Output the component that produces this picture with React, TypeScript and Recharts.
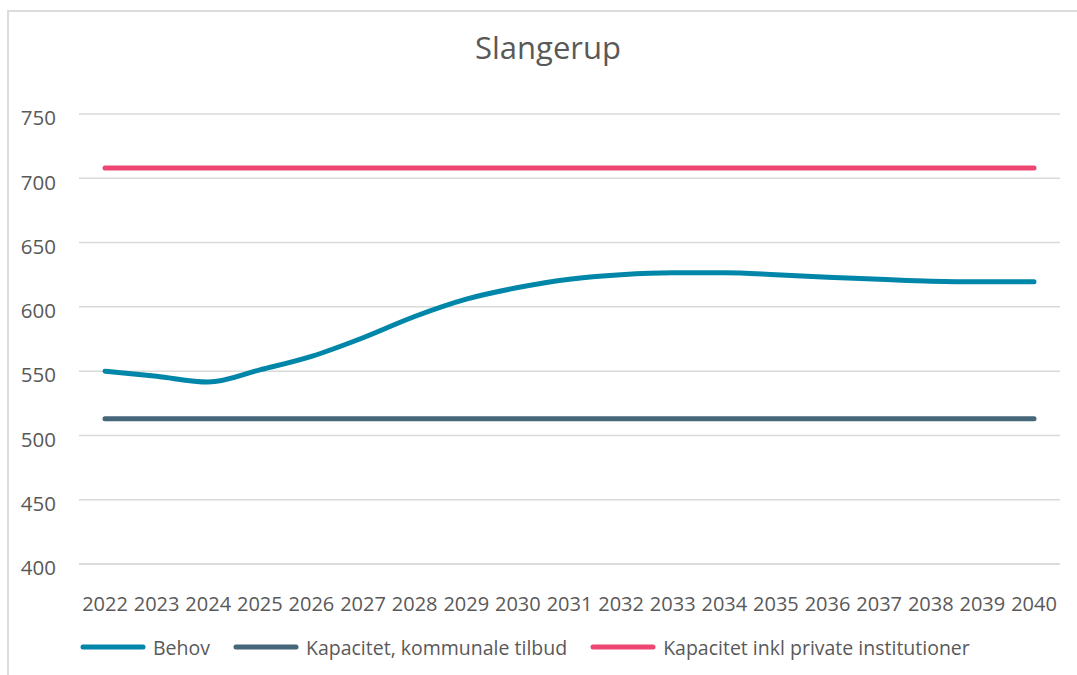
import { LineChart, Line, XAxis, YAxis, CartesianGrid, Legend } from "recharts";

const years = [
  "2022", "2023", "2024", "2025", "2026", "2027", "2028", "2029", "2030", "2031",
  "2032", "2033", "2034", "2035", "2036", "2037", "2038", "2039", "2040",
];
const behov = [550, 546, 541.5, 551, 561.5, 576, 592.5, 606, 615, 621.5, 625, 626.5, 626.5, 625, 623, 621.5, 620, 619.5, 619.5];
const kommunale = years.map(() => 513);
const privat = years.map(() => 708);
const yTicks = [400, 450, 500, 550, 600, 650, 700, 750];

const series = [
  { key: "behov", name: "Behov", color: "#0086A8" },
  { key: "kommunale", name: "Kapacitet, kommunale tilbud", color: "#466679" },
  { key: "privat", name: "Kapacitet inkl private institutioner", color: "#EE4673" },
];

const data = years.map((year, i) => ({
  year,
  behov: behov[i],
  kommunale: kommunale[i],
  privat: privat[i],
}));

const textColor = "#595959";
const font = "'Open Sans', sans-serif";

function LegendContent() {
  return (
    <div
      style={{
        display: "flex",
        alignItems: "center",
        height: 40,
        paddingLeft: 80,
        fontFamily: font,
        fontSize: 19.5,
        color: textColor,
      }}
    >
      {series.map((s) => (
        <div key={s.key} style={{ display: "flex", alignItems: "center", marginRight: 23 }}>
          <svg width={66} height={8} style={{ marginRight: 7 }}>
            <line x1={3} y1={4} x2={63} y2={4} stroke={s.color} strokeWidth={5} strokeLinecap="round" />
          </svg>
          <span>{s.name}</span>
        </div>
      ))}
    </div>
  );
}

export default function App() {
  return (
    <div style={{ position: "absolute", left: 0, top: 0, width: 1077, height: 675, background: "#fff", overflow: "hidden" }}>
      <div
        style={{
          position: "absolute",
          left: 7,
          top: 10,
          width: 1100,
          height: 700,
          borderTop: "2px solid #DCDCDC",
          borderLeft: "2px solid #DCDCDC",
        }}
      />
      <div
        style={{
          position: "absolute",
          top: 26,
          left: 0,
          width: 1096,
          textAlign: "center",
          fontFamily: font,
          fontSize: 31,
          color: textColor,
        }}
      >
        Slangerup
      </div>
      <div style={{ position: "absolute", left: 0, top: 0 }}>
        <LineChart width={1077} height={675} data={data} margin={{ top: 114, right: 17, bottom: 8, left: 0 }}>
          <CartesianGrid vertical={false} stroke="#D9D9D9" strokeWidth={1.5} />
          <XAxis
            dataKey="year"
            height={63}
            interval={0}
            padding={{ left: 26, right: 26 }}
            tickLine={false}
            axisLine={{ stroke: "#D9D9D9", strokeWidth: 1.5 }}
            tickMargin={27}
            tick={{ fill: textColor, fontSize: 20, fontFamily: font }}
          />
          <YAxis
            width={79}
            domain={[400, 750]}
            ticks={yTicks}
            tickLine={false}
            axisLine={false}
            tickMargin={17}
            tick={{ fill: textColor, fontSize: 20.5, fontFamily: font, dy: 4 }}
          />
          <Legend verticalAlign="bottom" wrapperStyle={{ left: 0, width: 1077 }} content={<LegendContent />} />
          {series.map((s) => (
            <Line
              key={s.key}
              dataKey={s.key}
              name={s.name}
              type="monotone"
              stroke={s.color}
              strokeWidth={5}
              strokeLinecap="round"
              dot={false}
              activeDot={false}
              isAnimationActive={false}
            />
          ))}
        </LineChart>
      </div>
    </div>
  );
}
